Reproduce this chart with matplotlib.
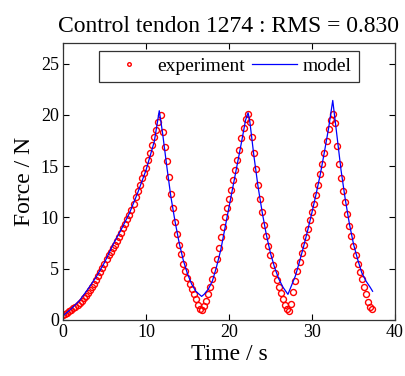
import matplotlib
matplotlib.use("Agg")
import matplotlib.pyplot as plt

plt.rcParams['font.family'] = ['Liberation Serif', 'DejaVu Serif']

# experiment data (time in s, force in N)
exp_t = [0.00, 0.25, 0.50, 0.75, 1.00, 1.25, 1.50, 1.75, 2.00, 2.25, 2.50, 2.75,
         3.00, 3.25, 3.50, 3.75, 4.00, 4.25, 4.50, 4.75, 5.00, 5.25, 5.50, 5.75,
         6.00, 6.25, 6.50, 6.75, 7.00, 7.25, 7.50, 7.75, 8.00, 8.25, 8.50, 8.75,
         9.00, 9.25, 9.50, 9.75, 10.00, 10.25, 10.50, 10.75, 11.00, 11.25, 11.50, 11.75,
         12.00, 12.25, 12.50, 12.75, 13.00, 13.25, 13.50, 13.75, 14.00, 14.25, 14.50, 14.75,
         15.00, 15.25, 15.50, 15.75, 16.00, 16.25, 16.50, 16.75, 17.00, 17.25, 17.50, 17.75,
         18.00, 18.25, 18.50, 18.75, 19.00, 19.25, 19.50, 19.75, 20.00, 20.25, 20.50, 20.75,
         21.00, 21.25, 21.50, 21.75, 22.00, 22.25, 22.50, 22.75, 23.00, 23.25, 23.50, 23.75,
         24.00, 24.25, 24.50, 24.75, 25.00, 25.25, 25.50, 25.75, 26.00, 26.25, 26.50, 26.75,
         27.00, 27.25, 27.50, 27.75, 28.00, 28.25, 28.50, 28.75, 29.00, 29.25, 29.50, 29.75,
         30.00, 30.25, 30.50, 30.75, 31.00, 31.25, 31.50, 31.75, 32.00, 32.25, 32.50, 32.75,
         33.00, 33.25, 33.50, 33.75, 34.00, 34.25, 34.50, 34.75, 35.00, 35.25, 35.50, 35.75,
         36.00, 36.25, 36.50, 36.75, 37.00, 37.25]
exp_f = [0.50, 0.60, 0.70, 0.85, 1.00, 1.15, 1.30, 1.50, 1.70, 1.90, 2.10, 2.35,
         2.60, 2.90, 3.20, 3.55, 3.90, 4.30, 4.70, 5.10, 5.50, 5.90, 6.30, 6.65,
         7.00, 7.35, 7.70, 8.10, 8.50, 8.95, 9.40, 9.80, 10.20, 10.75, 11.30, 11.95,
         12.60, 13.20, 13.80, 14.30, 14.80, 15.55, 16.30, 17.05, 17.80, 18.55, 19.30, 20.00,
         18.30, 16.90, 15.50, 13.90, 12.30, 10.90, 9.60, 8.40, 7.30, 6.40, 5.50, 4.80,
         4.10, 3.55, 3.00, 2.50, 2.00, 1.50, 1.10, 1.00, 1.40, 1.90, 2.50, 3.20,
         4.00, 4.90, 5.90, 7.00, 8.10, 9.10, 10.00, 10.90, 11.80, 12.70, 13.60, 14.60,
         15.60, 16.60, 17.70, 18.70, 19.60, 20.10, 19.30, 17.80, 16.30, 14.70, 13.20, 11.80,
         10.50, 9.30, 8.20, 7.20, 6.30, 5.40, 4.60, 3.90, 3.20, 2.60, 2.00, 1.50,
         1.10, 0.90, 1.60, 2.70, 3.80, 4.80, 5.70, 6.50, 7.30, 8.10, 8.90, 9.70,
         10.50, 11.30, 12.20, 13.20, 14.20, 15.20, 16.30, 17.40, 18.60, 19.50, 20.10, 19.20,
         17.00, 15.20, 13.80, 12.60, 11.50, 10.30, 9.20, 8.20, 7.20, 6.30, 5.50, 4.70,
         4.00, 3.20, 2.50, 1.80, 1.30, 1.05]

# model prediction
model_t = [0, 1, 2, 3, 4, 5, 6, 7, 8, 9, 10, 11, 11.6, 12, 12.5, 13, 13.5, 14, 14.5,
           15, 15.5, 16, 16.7, 17, 17.5, 18, 18.5, 19, 19.5, 20, 20.5, 21, 21.5, 22,
           22.3, 22.5, 23, 23.5, 24, 24.5, 25, 25.5, 26, 26.5, 27.1, 27.5, 28, 28.5,
           29, 29.5, 30, 30.5, 31, 31.5, 32, 32.5, 33, 33.5, 34, 34.5, 35, 35.5, 36,
           36.5, 37, 37.3]
model_f = [0.4, 1.1, 1.9, 3.0, 4.2, 5.6, 7.3, 8.8, 10.4, 12.4, 14.6, 17.4, 20.4, 18.2,
           15.0, 12.0, 9.6, 7.5, 5.8, 4.5, 3.5, 2.8, 2.3, 2.5, 3.0, 3.8, 5.2, 6.8, 8.9,
           11.0, 13.1, 15.2, 17.3, 19.5, 20.2, 19.4, 16.0, 13.0, 10.5, 8.3, 6.5, 5.1,
           4.0, 3.2, 2.5, 3.3, 4.3, 5.7, 7.2, 8.8, 10.5, 12.3, 14.2, 16.4, 18.7, 21.4,
           18.0, 14.6, 11.8, 9.4, 7.4, 5.9, 4.6, 3.8, 3.2, 2.8]

x_ticks = [0, 10, 20, 30, 40]
y_ticks = [0, 5, 10, 15, 20, 25]

fig = plt.figure(figsize=(4.06, 3.76), dpi=100)
ax = fig.add_axes([63/406, 56/376, 332/406, 277/376])

ax.plot(exp_t, exp_f, linestyle='none', marker='o', markersize=4.3,
        markerfacecolor='none', markeredgecolor='red', markeredgewidth=1.0,
        label='experiment')
ax.plot(model_t, model_f, color='blue', linewidth=0.9, label='model')

ax.set_xlim(0, 40)
ax.set_ylim(0, 27)
ax.set_xticks(x_ticks)
ax.set_yticks(y_ticks)
ax.tick_params(direction='in', top=True, right=True, length=4, width=0.8,
               labelsize=13, pad=3)
for s in ax.spines.values():
    s.set_linewidth(0.9)
    s.set_color('#333333')

ax.set_xlabel('Time / s', fontsize=17, labelpad=2)
ax.set_ylabel('Force / N', fontsize=17, labelpad=4)
ax.set_title('Control tendon 1274 : RMS = 0.830', fontsize=17, pad=8)

leg = ax.legend(loc='upper center', bbox_to_anchor=(0.5, 1.0), ncol=2,
                fontsize=14, numpoints=1, frameon=True, fancybox=False,
                edgecolor='black', handlelength=2.3, handletextpad=0.3,
                columnspacing=0.4, borderpad=0.35, borderaxespad=0.4,
                markerscale=0.6)
leg.get_frame().set_linewidth(0.9)

fig.savefig('out.png', dpi=100)
